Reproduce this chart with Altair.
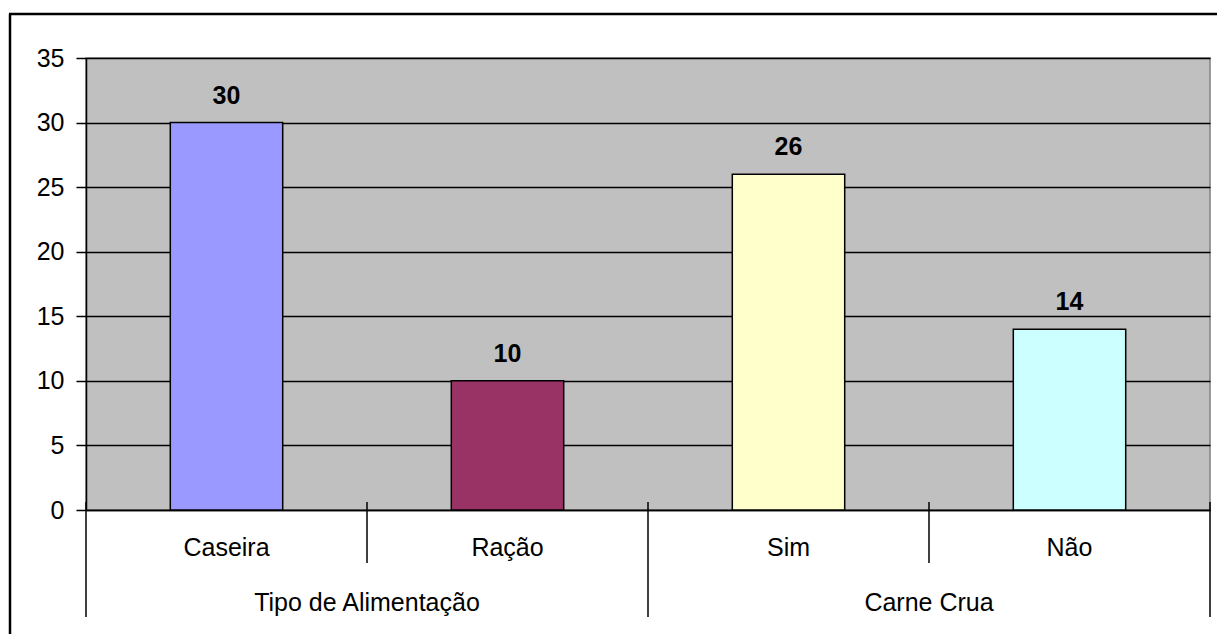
import altair as alt
import pandas as pd

# Values per category
categories = ["Caseira", "Ração", "Sim", "Não"]
counts = [30, 10, 26, 14]
groups = ["Tipo de Alimentação", "Tipo de Alimentação", "Carne Crua", "Carne Crua"]
bar_colors = ["#9999FF", "#993366", "#FFFFCC", "#CCFFFF"]
y_ticks = [0, 5, 10, 15, 20, 25, 30, 35]

# Group headings are centred on the boundary between their two categories
group_names = ["Tipo de Alimentação", "Carne Crua"]
group_mid_cat = ["Ração", "Não"]

W, H = 1124, 452
FONT = "Liberation Sans"
FS = 25

df = pd.DataFrame({"cat": categories, "n": counts, "grp": groups})
gdf = pd.DataFrame({"grp": group_names, "cat": group_mid_cat})

xscale = alt.Scale(domain=categories, paddingInner=0, paddingOuter=0)
x_enc = alt.X(
    "cat:N", scale=xscale, sort=categories, title=None,
    axis=alt.Axis(labelAngle=0, labelFontSize=FS, labelFont=FONT, labelColor="black",
                  labelPadding=25, ticks=False, domainColor="black", domainWidth=1.5),
)
y_enc = alt.Y(
    "n:Q", title=None, scale=alt.Scale(domain=[0, 35], nice=False),
    axis=alt.Axis(values=y_ticks, labelFontSize=FS, labelFont=FONT, labelColor="black",
                  labelPadding=12, tickSize=10, tickColor="black", tickWidth=1.5,
                  domainColor="black", domainWidth=1.5,
                  grid=True, gridColor="black", gridWidth=1.5),
)

bars = alt.Chart(df).mark_bar(
    width=alt.RelativeBandSize(0.4), stroke="black", strokeWidth=1.5
).encode(
    x=x_enc, y=y_enc,
    color=alt.Color("cat:N", scale=alt.Scale(domain=categories, range=bar_colors), legend=None),
)

values = alt.Chart(df).mark_text(
    fontSize=FS, fontWeight="bold", font=FONT, color="black", dy=-19, baseline="alphabetic"
).encode(
    x=alt.X("cat:N", scale=xscale, sort=categories), y="n:Q", text="n:Q"
)

# Separator lines of the two-level category axis
short_sep = alt.Chart(df[df["cat"].isin(["Ração", "Não"])]).mark_rule(
    color="black", strokeWidth=1.5
).encode(
    x=alt.X("cat:N", scale=xscale, sort=categories, bandPosition=0),
    y=alt.value(H - 8), y2=alt.value(H + 53),
)
long_sep = alt.Chart(df[df["cat"].isin(["Caseira", "Sim"])]).mark_rule(
    color="black", strokeWidth=1.5
).encode(
    x=alt.X("cat:N", scale=xscale, sort=categories, bandPosition=0),
    y=alt.value(H - 8), y2=alt.value(H + 107),
)
end_sep = alt.Chart(df[df["cat"] == "Não"]).mark_rule(
    color="black", strokeWidth=1.5
).encode(
    x=alt.X("cat:N", scale=xscale, sort=categories, bandPosition=1),
    y=alt.value(H - 8), y2=alt.value(H + 107),
)

group_labels = alt.Chart(gdf).mark_text(
    fontSize=FS, font=FONT, color="black", baseline="middle"
).encode(
    x=alt.X("cat:N", scale=xscale, sort=categories, bandPosition=0),
    y=alt.value(H + 93), text="grp:N",
)

# Outer frame of the chart area
frame_left = alt.Chart(df.head(1)).mark_rule(color="black", strokeWidth=2.5).encode(
    x=alt.value(-76), y=alt.value(-44), y2=alt.value(H + 200)
)
frame_top = alt.Chart(df.head(1)).mark_rule(color="black", strokeWidth=2.5).encode(
    x=alt.value(-77), x2=alt.value(W + 100), y=alt.value(-44)
)

chart = alt.layer(
    bars, values, short_sep, long_sep, end_sep, group_labels, frame_left, frame_top
).properties(
    width=W, height=H,
    background="white",
    autosize=alt.AutoSizeParams(type="none"),
    padding={"left": 86, "top": 58, "right": 7, "bottom": 124},
).configure_view(
    fill="#C0C0C0", stroke="#808080", strokeWidth=1.5
)

chart.save("out.html", embed_options={"renderer": "svg", "actions": False})
